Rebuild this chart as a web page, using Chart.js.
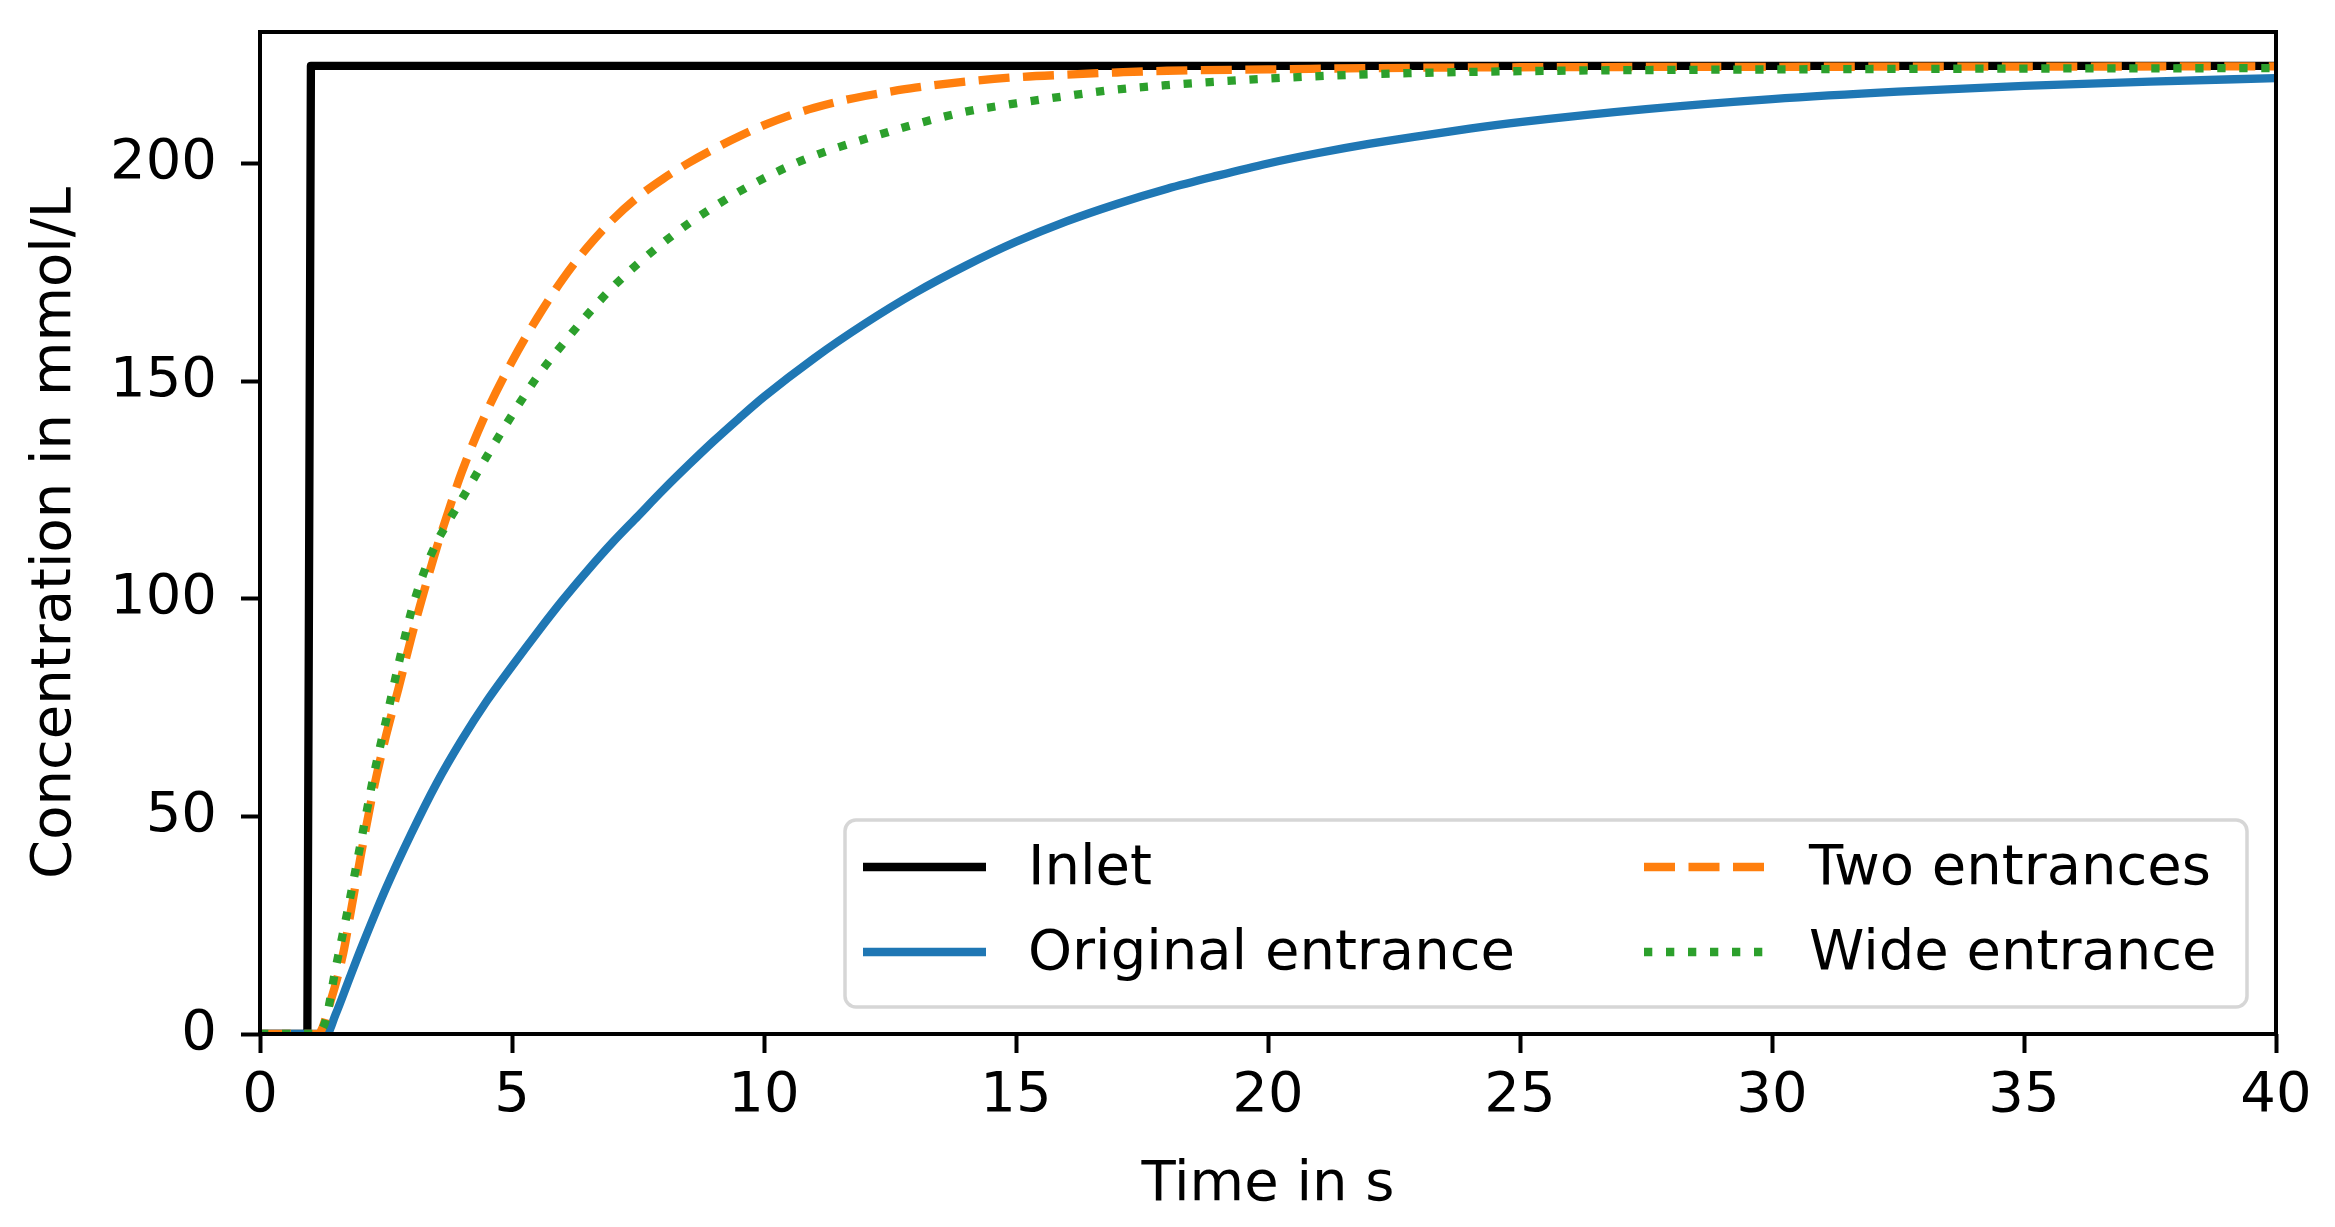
<!DOCTYPE html>
<html>
<head>
<meta charset="utf-8">
<script src="https://cdn.jsdelivr.net/npm/chart.js@4.4.1/dist/chart.umd.min.js"></script>
<style>
html, body { margin: 0; padding: 0; background: #fff; }
#wrap { width: 2335px; height: 1227px; }
</style>
</head>
<body>
<div id="wrap"><canvas id="myChart" width="2335" height="1227"></canvas></div>
<script>
'use strict';

// data
let inletTime = [0, 0.94, 1.01, 40];
let inletConc = [0, 0, 222.4, 222.4];

let originalTime = [0, 1.32, 1.5, 1.75, 2, 2.5, 3, 3.5, 4, 4.5, 5, 5.5, 6, 6.5, 7, 7.5, 8, 8.5, 9, 9.5, 10, 11, 12, 13, 14, 15, 16, 17, 18, 19, 20, 21, 22, 23, 24, 25, 27.5, 30, 32.5, 35, 37.5, 40];
let originalConc = [0, 0, 4.5, 12, 19.5, 33.5, 46, 57.5, 67.5, 76.5, 84.5, 92.2, 99.6, 106.5, 113, 119, 125, 130.7, 136.2, 141.4, 146.4, 155.3, 163.2, 170.3, 176.5, 182, 186.7, 190.7, 194.2, 197.2, 200, 202.4, 204.5, 206.3, 208, 209.5, 212.5, 214.8, 216.5, 217.8, 218.8, 219.6];

let twoTime = [0, 1.15, 1.4, 1.65, 1.8, 2, 2.25, 2.5, 2.75, 3, 3.25, 3.5, 3.75, 4, 4.5, 5, 5.5, 6, 6.5, 7, 7.5, 8, 8.5, 9, 9.5, 10, 10.5, 11, 11.5, 12, 12.5, 13, 14, 15, 16, 17, 18, 20, 22, 25, 30, 40];
let twoConc = [0, 0, 7.5, 18.5, 28, 41, 56, 68.5, 79.5, 91, 101.5, 111.5, 120.5, 129, 143, 154.5, 164.5, 173.3, 180.8, 187.1, 192.3, 196.5, 200.1, 203.3, 206.2, 208.8, 211, 212.8, 214.3, 215.5, 216.5, 217.4, 218.8, 219.8, 220.4, 220.9, 221.3, 221.6, 221.9, 222.1, 222.2, 222.3];

let wideTime = [0, 1.1, 1.3, 1.5, 1.75, 2, 2.25, 2.5, 2.75, 3, 3.25, 3.5, 3.75, 4, 4.5, 5, 5.5, 6, 6.5, 7, 7.5, 8, 8.5, 9, 9.5, 10, 10.5, 11, 11.5, 12, 13, 14, 15, 16, 17, 18, 19, 20, 22, 25, 30, 35, 40];
let wideConc = [0, 0, 3, 15, 29, 44, 59, 72, 85, 97, 106, 112.8, 118, 122.8, 132.7, 142.2, 151, 158.4, 165.3, 171.6, 177, 181.8, 186.2, 190, 193.5, 196.6, 199.4, 201.8, 203.8, 205.6, 209, 211.9, 213.8, 215.5, 217, 218, 218.8, 219.5, 220.5, 221.2, 221.6, 221.8, 221.9];

let seriesNames = ["Inlet", "Original entrance", "Two entrances", "Wide entrance"];
let xTicks = [0, 5, 10, 15, 20, 25, 30, 35, 40];
let yTicks = [0, 50, 100, 150, 200];

function toPoints(times, values) {
    let pts = [];
    for (let i = 0; i < times.length; i++) {
        pts.push({ x: times[i], y: values[i] });
    }
    return pts;
}

const FONT = "'DejaVu Sans', sans-serif";
const LW = 8.3;

// legend drawn inside the plot, two columns like the original
const insideLegend = {
    id: 'insideLegend',
    afterDatasetsDraw(chart) {
        let ctx = chart.ctx;
        let area = chart.chartArea;
        let boxR = area.right - 29;
        let boxB = area.bottom - 27;
        let boxL = 845, boxT = 820;
        ctx.save();
        ctx.beginPath();
        ctx.roundRect(boxL, boxT, boxR - boxL, boxB - boxT, 11);
        ctx.fillStyle = 'rgba(255,255,255,0.8)';
        ctx.fill();
        ctx.lineWidth = 3.5;
        ctx.strokeStyle = 'rgba(204,204,204,0.8)';
        ctx.stroke();

        let cols = [863, 1644];
        let rows = [867, 952];
        let handleLen = 123;
        let textGap = 42;
        let slots = [[0, 0], [0, 1], [1, 0], [1, 1]];
        ctx.font = '56px ' + FONT;
        ctx.textBaseline = 'middle';
        ctx.textAlign = 'left';
        chart.data.datasets.forEach(function (ds, i) {
            let cx = cols[slots[i][0]];
            let cy = rows[slots[i][1]];
            ctx.beginPath();
            ctx.setLineDash(ds.borderDash || []);
            ctx.lineWidth = ds.borderWidth;
            ctx.strokeStyle = ds.borderColor;
            ctx.lineCap = 'butt';
            ctx.moveTo(cx, cy);
            ctx.lineTo(cx + handleLen, cy);
            ctx.stroke();
            ctx.setLineDash([]);
            ctx.fillStyle = '#000';
            ctx.fillText(ds.label, cx + handleLen + textGap, cy + 2);
        });
        ctx.restore();
    }
};

// axes frame on all four sides
const frame = {
    id: 'frame',
    afterDatasetsDraw(chart) {
        let a = chart.chartArea;
        let ctx = chart.ctx;
        ctx.save();
        ctx.lineWidth = 4;
        ctx.strokeStyle = '#000';
        ctx.strokeRect(a.left, a.top, a.right - a.left, a.bottom - a.top);
        ctx.restore();
    }
};

let ctx = document.getElementById('myChart').getContext('2d');
let chart = new Chart(ctx, {
    type: 'line',
    data: {
        datasets: [{
            label: seriesNames[0],
            data: toPoints(inletTime, inletConc),
            borderColor: '#000000',
            borderWidth: LW,
            tension: 0,
            order: 4
        }, {
            label: seriesNames[1],
            data: toPoints(originalTime, originalConc),
            borderColor: '#1f77b4',
            borderWidth: LW,
            cubicInterpolationMode: 'monotone',
            order: 3
        }, {
            label: seriesNames[2],
            data: toPoints(twoTime, twoConc),
            borderColor: '#ff7f0e',
            borderWidth: LW,
            borderDash: [31, 13.5],
            cubicInterpolationMode: 'monotone',
            order: 2
        }, {
            label: seriesNames[3],
            data: toPoints(wideTime, wideConc),
            borderColor: '#2ca02c',
            borderWidth: LW,
            borderDash: [8.3, 13.7],
            cubicInterpolationMode: 'monotone',
            order: 1
        }]
    },
    options: {
        responsive: false,
        animation: false,
        devicePixelRatio: 1,
        layout: { padding: { left: 0, right: 59, top: 32, bottom: 0 } },
        elements: {
            point: { radius: 0 },
            line: { borderCapStyle: 'butt', borderJoinStyle: 'round', fill: false }
        },
        plugins: {
            legend: { display: false },
            tooltip: { enabled: false }
        },
        scales: {
            x: {
                type: 'linear',
                min: 0,
                max: 40,
                afterBuildTicks: function (s) { s.ticks = xTicks.map(v => ({ value: v })); },
                afterFit: function (s) { s.height = 193; s.paddingLeft = 0; s.paddingRight = 0; },
                grid: { drawOnChartArea: false, drawTicks: true, tickLength: 19, tickWidth: 4, tickColor: '#000' },
                border: { display: false },
                ticks: { color: '#000', padding: 10, maxRotation: 0, font: { family: FONT, size: 56 } },
                title: { display: true, text: 'Time in s', color: '#000', padding: { top: 0, bottom: 8 }, font: { family: FONT, size: 56 } }
            },
            y: {
                type: 'linear',
                min: 0,
                max: 230.2,
                afterBuildTicks: function (s) { s.ticks = yTicks.map(v => ({ value: v })); },
                afterFit: function (s) { s.width = 260; s.paddingTop = 0; s.paddingBottom = 0; },
                grid: { drawOnChartArea: false, drawTicks: true, tickLength: 19, tickWidth: 4, tickColor: '#000' },
                border: { display: false },
                ticks: { color: '#000', padding: 24, font: { family: FONT, size: 56 } },
                title: { display: true, text: 'Concentration in mmol/L', color: '#000', padding: { top: 22, bottom: 0 }, font: { family: FONT, size: 56 } }
            }
        }
    },
    plugins: [frame, insideLegend]
});
</script>
</body>
</html>
